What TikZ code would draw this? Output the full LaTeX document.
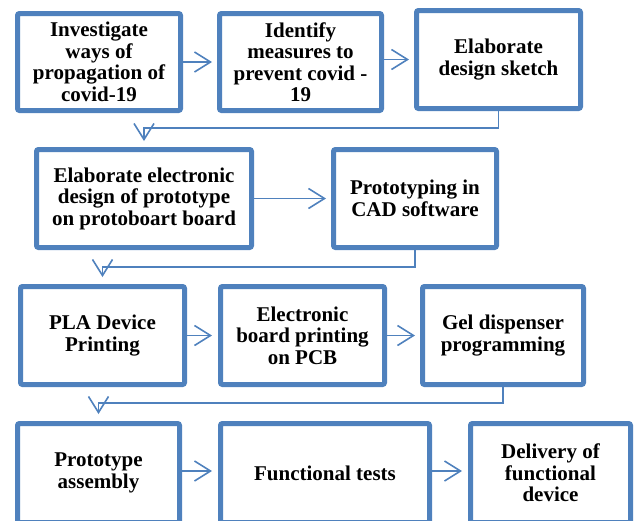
\documentclass[tikz,border=0pt]{standalone}
\usepackage{fontspec}
\newfontfamily\boxfont{LiberationSerif}[Extension=.ttf, UprightFont=*-Bold, BoldFont=*-Bold]
\usetikzlibrary{arrows.meta}
\definecolor{boxblue}{RGB}{79,129,189}
\tikzset{
  box/.style={draw=boxblue, line width=5pt, rounded corners=2pt, fill=white,
    align=center, inner sep=0pt,
    font=\boxfont\fontsize{21}{21.5}\selectfont},
  arr/.style={draw=boxblue, line width=1.6pt,
    -{Straight Barb[length=16pt,width=20pt,line width=1.6pt]}},
}
\begin{document}
\begin{tikzpicture}[x=1pt,y=-1pt]
\useasboundingbox (0,0) rectangle (637,520);
% row 1
\node[box, minimum width=163pt, minimum height=97pt] (A) at (99,62)
  {Investigate\\ways of\\propagation of\\covid-19};
\node[box, minimum width=162pt, minimum height=97pt] (B) at (300.5,62)
  {Identify\\measures to\\prevent covid -\\19};
\node[box, minimum width=164pt, minimum height=98pt] (C) at (498.5,59.5)
  {Elaborate\\design sketch};
% row 2
\node[box, minimum width=215pt, minimum height=98pt] (D) at (144,198.5)
  {Elaborate electronic\\design of prototype\\on protoboart board};
\node[box, minimum width=163pt, minimum height=98pt] (E) at (415,198.5)
  {Prototyping in\\CAD software};
% row 3
\node[box, minimum width=164pt, minimum height=98pt] (F) at (102.5,335.5)
  {PLA Device\\Printing};
\node[box, minimum width=164pt, minimum height=98pt] (G) at (302.5,335.5)
  {Electronic\\board printing\\on PCB};
\node[box, minimum width=161pt, minimum height=98pt] (H) at (503,335.5)
  {Gel dispenser\\programming};
% row 4
\node[box, minimum width=162pt, minimum height=99pt] (I) at (98.5,473)
  {Prototype\\assembly};
\node[box, minimum width=209pt, minimum height=99pt] (J) at (325,473)
  {Functional tests};
\node[box, minimum width=160pt, minimum height=99pt] (K) at (550.5,473)
  {Delivery of\\functional\\device};
% bend rows
\coordinate (r1) at (0,128);
\coordinate (r2) at (0,267);
\coordinate (r3) at (0,403);
\coordinate (r4) at (0,471);
% arrows
\draw[arr, shorten >=5pt] (A.east) -- (B.west);
\draw[arr, shorten >=5pt] (B.east |- C.west) -- (C.west);
\draw[arr, shorten >=6pt] (C.south) -- (C.south |- r1) -| (D.north);
\draw[arr, shorten >=5pt] (D.east) -- (E.west);
\draw[arr, shorten >=7pt] (E.south) -- (E.south |- r2) -| (F.north);
\draw[arr, shorten >=6pt] (F.east) -- (G.west);
\draw[arr, shorten >=5pt] (G.east) -- (H.west);
\draw[arr, shorten >=7pt] (H.south) -- (H.south |- r3) -| (I.north);
\draw[arr, shorten >=6pt] (I.east |- r4) -- (J.west |- r4);
\draw[arr, shorten >=6pt] (J.east |- r4) -- (K.west |- r4);
\end{tikzpicture}
\end{document}
